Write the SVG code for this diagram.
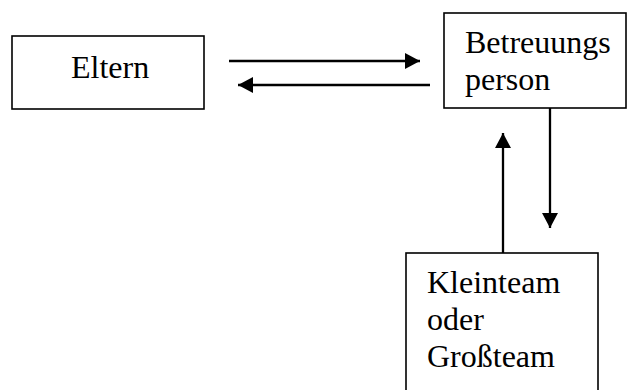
<svg xmlns="http://www.w3.org/2000/svg" width="627" height="390" viewBox="0 0 627 390">
<style>
.box{fill:#fff;stroke:#000;stroke-width:1.6}
.lbl{font-family:"Liberation Serif","Times New Roman",serif;font-size:32px;fill:#000}
.conn{stroke:#000;stroke-width:2.3;fill:none}
</style>
<defs>
<marker id="ah" viewBox="0 0 15 16" refX="15" refY="8" markerWidth="15" markerHeight="16" markerUnits="userSpaceOnUse" orient="auto">
<path d="M0,0 L15,8 L0,16 Z" fill="#000"/>
</marker>
</defs>
<rect width="627" height="390" fill="#fff"/>
<g id="eltern">
<rect class="box" x="12" y="36" width="192" height="73"/>
<text class="lbl" x="71" y="78">Eltern</text>
</g>
<g id="betreuungsperson">
<rect class="box" x="444" y="13" width="182" height="95"/>
<text class="lbl" x="465" y="53">Betreuungs</text>
<text class="lbl" x="465" y="90">person</text>
</g>
<g id="team">
<rect class="box" x="406" y="253" width="192" height="150"/>
<text class="lbl" x="427" y="293">Kleinteam</text>
<text class="lbl" x="427" y="330">oder</text>
<text class="lbl" x="427" y="367">Großteam</text>
</g>
<g id="connectors">
<line class="conn" x1="229" y1="61" x2="420" y2="61" marker-end="url(#ah)"/>
<line class="conn" x1="430" y1="85" x2="238" y2="85" marker-end="url(#ah)"/>
<line class="conn" x1="550" y1="108" x2="550" y2="228" marker-end="url(#ah)"/>
<line class="conn" x1="503" y1="253" x2="503" y2="133" marker-end="url(#ah)"/>
</g>
</svg>
